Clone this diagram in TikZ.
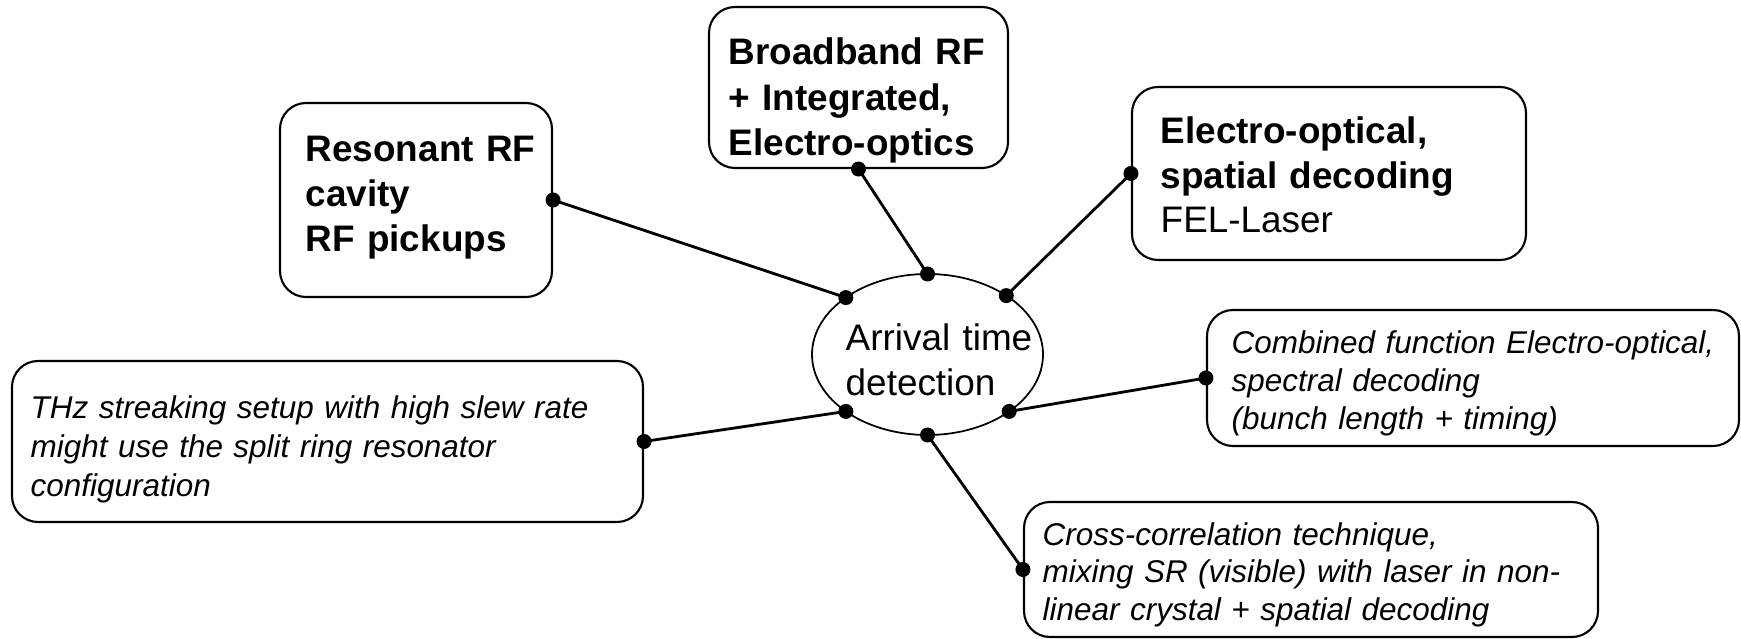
\documentclass[tikz,border=0pt]{standalone}
\usepackage{fontspec}
\setmainfont{Liberation Sans}
\usetikzlibrary{calc,positioning,shapes.geometric}

\tikzstyle{box}     = [draw=black, line width=0.6pt, rounded corners=0.26cm, inner sep=0pt]
\tikzstyle{oval}    = [draw=black, ellipse, line width=0.5pt, inner sep=0pt]
\tikzstyle{bigtext} = [text width=4cm, align=left, anchor=base west, inner sep=0pt, font=\fontsize{10.5}{12.66}\selectfont]
\tikzstyle{smalltext} = [text width=6.4cm, align=left, anchor=base west, inner sep=0pt, font=\fontsize{8.95}{10.8}\selectfont\itshape]
\tikzstyle{link}    = [line width=0.8pt]

\begin{document}
\begin{tikzpicture}
        \useasboundingbox (0,0) rectangle (17.41,6.38);

        \node[oval, minimum width=2.31cm, minimum height=1.61cm] (det) at (9.275,2.835) {};
        \node[box, minimum width=2.72cm, minimum height=1.94cm] (res) at (4.16,4.38) {};
        \node[box, minimum width=2.99cm, minimum height=1.61cm] (bb) at (8.585,5.505) {};
        \node[box, minimum width=3.94cm, minimum height=1.73cm] (eo) at (13.29,4.645) {};
        \node[box, minimum width=6.31cm, minimum height=1.61cm] (thz) at (3.275,1.965) {};
        \node[box, minimum width=5.32cm, minimum height=1.36cm] (cmb) at (14.73,2.60) {};
        \node[box, minimum width=5.74cm, minimum height=1.35cm] (crs) at (13.11,0.685) {};

        \node[bigtext] (dettext) at (8.45,2.87) {Arrival time\\detection};
        \node[bigtext, font=\fontsize{10.5}{12.8}\selectfont\bfseries] (restext) at (3.05,4.76) {Resonant RF\\cavity\\RF pickups};
        \node[bigtext, font=\fontsize{10.5}{12.9}\selectfont\bfseries] (bbtext) at (7.28,5.73) {Broadband RF\\+ Integrated,\\Electro-optics};
        \node[bigtext] (eotext) at (11.60,4.94) {\textbf{Electro-optical,}\\\textbf{spatial decoding}\\FEL-Laser};
        \node[smalltext, font=\fontsize{8.95}{11.05}\selectfont\itshape] (thztext) at (0.30,2.195) {THz streaking setup with high slew rate\\might use the split ring resonator\\configuration};
        \node[smalltext] (cmbtext) at (12.31,2.84) {Combined function Electro-optical,\\spectral decoding\\(bunch length + timing)};
        \node[smalltext] (crstext) at (10.42,0.93) {Cross-correlation technique,\\mixing SR (visible) with laser in non-\\linear crystal + spatial decoding};

        \foreach \ang in {47,90,135,225,270,315}
            \path (det.center) ++(\ang:1.155 and 0.805) coordinate (d\ang);

        \foreach \a/\b in {res.east/d135, bb.south/d90, eo.west/d47, thz.east/d225, cmb.west/d315, crs.west/d270}{
            \draw[link] (\a) -- (\b);
            \fill (\a) circle (0.075);
            \fill (\b) circle (0.075);
        }
\end{tikzpicture}
\end{document}
